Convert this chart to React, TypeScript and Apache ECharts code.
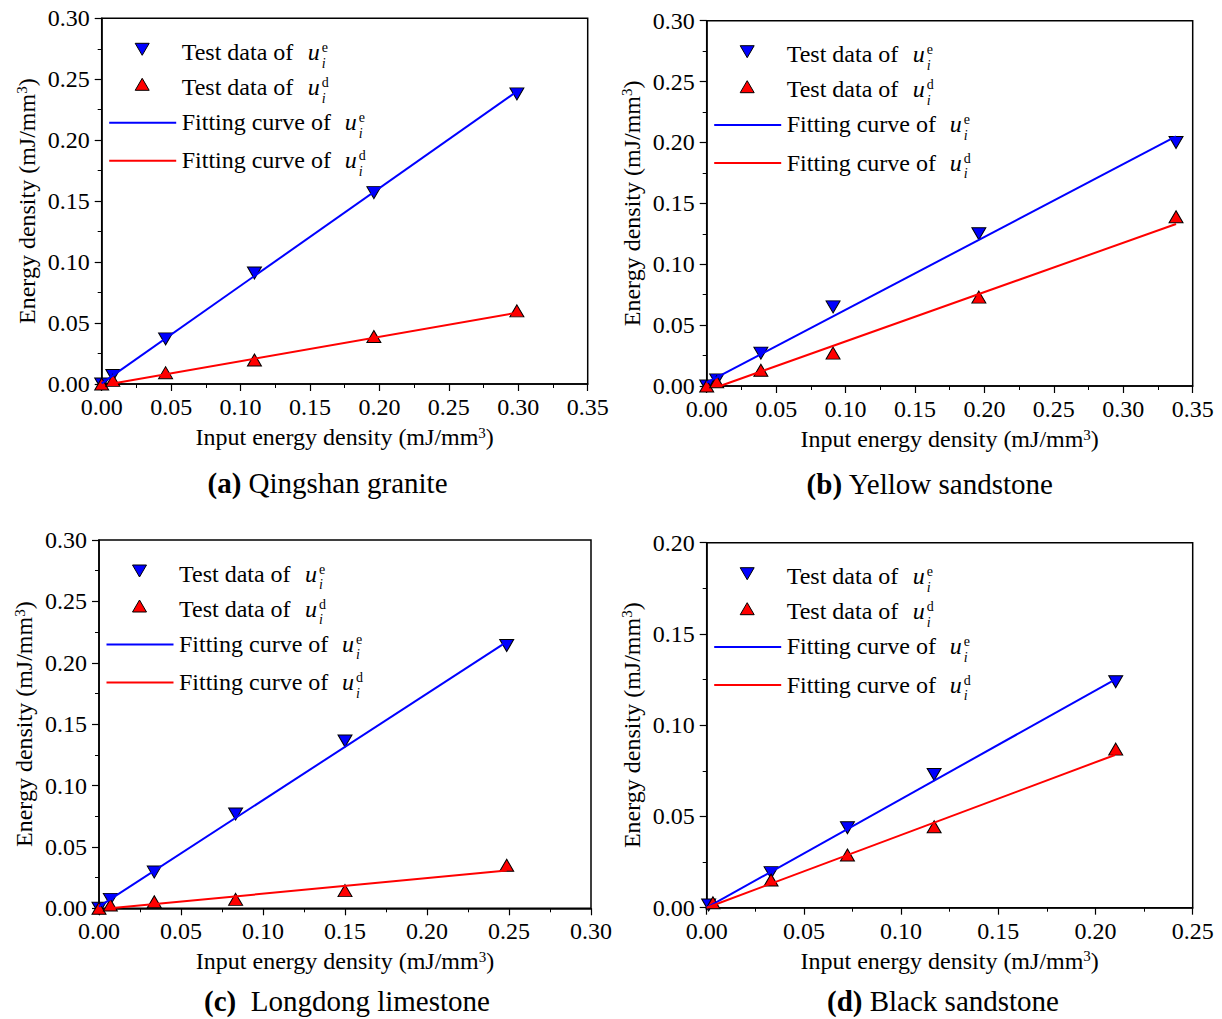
import React, { useEffect, useRef } from "react";
import * as echarts from "echarts";

const FONT = '"Liberation Serif", "Times New Roman", Times, serif';

// (a) Qingshan granite
const inputA = [0, 0.008, 0.046, 0.11, 0.196, 0.299];
const elasticA = [0, 0.007, 0.037, 0.091, 0.157, 0.238];
const dissipA = [0, 0.003, 0.0093, 0.0197, 0.039, 0.06];
const fitElasticA = [[0, 0.0005], [0.299, 0.24]];
const fitDissipA = [[0.006, 0], [0.299, 0.0585]];

// (b) Yellow sandstone
const inputB = [0, 0.0072, 0.039, 0.091, 0.196, 0.338];
const elasticB = [0, 0.005, 0.027, 0.065, 0.125, 0.2];
const dissipB = [0, 0.0035, 0.013, 0.027, 0.073, 0.139];
const fitElasticB = [[0, 0.0027], [0.338, 0.205]];
const fitDissipB = [[0.0096, 0], [0.338, 0.133]];

// (c) Longdong limestone
const inputC = [0, 0.0069, 0.0337, 0.0833, 0.15, 0.2486];
const elasticC = [0, 0.0073, 0.0295, 0.0768, 0.1363, 0.214];
const dissipC = [0, 0.0027, 0.0054, 0.0073, 0.0144, 0.035];
const fitElasticC = [[0, 0.0014], [0.2486, 0.217]];
const fitDissipC = [[0.0067, 0], [0.2486, 0.0307]];

// (d) Black sandstone
const inputDe = [0.001, 0.0331, 0.0724, 0.117, 0.2104];
const elasticD = [0.0015, 0.0192, 0.0438, 0.073, 0.1238];
const inputDd = [0.0032, 0.0331, 0.0724, 0.117, 0.2104];
const dissipD = [0.0027, 0.0152, 0.0289, 0.0444, 0.0869];
const fitElasticD = [[0, 0], [0.21, 0.125]];
const fitDissipD = [[0, 0], [0.21, 0.0837]];

// Axis ranges
const xMaxes = [0.35, 0.35, 0.3, 0.25];
const yMaxes = [0.3, 0.3, 0.3, 0.2];
const tickStep = 0.05;

const captionTags = ["(a)", "(b)", "(c)", "(d)"];
const captionNames = [" Qingshan granite", " Yellow sandstone", "  Longdong limestone", " Black sandstone"];

const legendRows = [
  { text: "Test data of", sup: "e" },
  { text: "Test data of", sup: "d" },
  { text: "Fitting curve of", sup: "e" },
  { text: "Fitting curve of", sup: "d" },
];

const BLUE = "#0000ff";
const RED = "#ff0000";

// Panel frames (pixels)
const layout = [
  { left: 101.7, top: 18.3, width: 486, height: 365.7, capX: 327.5, capY: 483 },
  { left: 706.7, top: 20.7, width: 486, height: 365.3, capX: 930, capY: 484 },
  { left: 99, top: 540, width: 492, height: 368.3, capX: 347, capY: 1001 },
  { left: 706.7, top: 542.7, width: 486, height: 365, capX: 943, capY: 1001 },
];

const pair = (xs: number[], ys: number[]) => xs.map((x, i) => [x, ys[i]]);

const panels = [
  { e: pair(inputA, elasticA), d: pair(inputA, dissipA), fe: fitElasticA, fd: fitDissipA },
  { e: pair(inputB, elasticB), d: pair(inputB, dissipB), fe: fitElasticB, fd: fitDissipB },
  { e: pair(inputC, elasticC), d: pair(inputC, dissipC), fe: fitElasticC, fd: fitDissipC },
  { e: pair(inputDe, elasticD), d: pair(inputDd, dissipD), fe: fitElasticD, fd: fitDissipD },
];

const textRich = {
  t: { fontSize: 24, fontFamily: FONT, color: "#000" },
  s: { fontSize: 15, fontFamily: FONT, color: "#000", verticalAlign: "top" as const },
};

function legendFor(gx: number, gy: number) {
  const els: any[] = [];
  const cx = gx + 40.5;
  const c1 = gy + 31;
  const c2 = gy + 66;
  els.push({
    type: "polygon",
    shape: { points: [[cx - 7, c1 - 6], [cx + 7, c1 - 6], [cx, c1 + 6]] },
    style: { fill: BLUE, stroke: "#000", lineWidth: 1 },
  });
  els.push({
    type: "polygon",
    shape: { points: [[cx - 7, c2 + 6], [cx + 7, c2 + 6], [cx, c2 - 6]] },
    style: { fill: RED, stroke: "#000", lineWidth: 1 },
  });
  els.push({
    type: "line",
    shape: { x1: gx + 7.5, y1: gy + 104.4, x2: gx + 74.5, y2: gy + 104.4 },
    style: { stroke: BLUE, lineWidth: 2 },
  });
  els.push({
    type: "line",
    shape: { x1: gx + 7.5, y1: gy + 142.4, x2: gx + 74.5, y2: gy + 142.4 },
    style: { stroke: RED, lineWidth: 2 },
  });
  const baselines = [41.7, 76.7, 111.7, 150];
  legendRows.forEach((row, i) => {
    const base = gy + baselines[i];
    const tx = gx + 80;
    const ux = tx + (i < 2 ? 126 : 163);
    els.push({
      type: "text",
      x: tx,
      y: base - 8,
      style: { text: row.text, fontSize: 24, fontFamily: FONT, fill: "#000", textAlign: "left", textVerticalAlign: "middle" },
    });
    els.push({
      type: "text",
      x: ux,
      y: base - 8,
      style: { text: "u", fontSize: 24, fontFamily: FONT, fontStyle: "italic", fill: "#000", textAlign: "left", textVerticalAlign: "middle" },
    });
    // superscript and subscript stacked after the italic u
    els.push({
      type: "text",
      x: ux + 14,
      y: base - 12.5,
      style: { text: row.sup, fontSize: 14, fontFamily: FONT, fill: "#000", textAlign: "left", textVerticalAlign: "middle" },
    });
    els.push({
      type: "text",
      x: ux + 14,
      y: base + 3,
      style: { text: "i", fontSize: 14, fontFamily: FONT, fontStyle: "italic", fill: "#000", textAlign: "left", textVerticalAlign: "middle" },
    });
  });
  return els;
}

function buildOption() {
  const grid: any[] = [];
  const xAxis: any[] = [];
  const yAxis: any[] = [];
  const series: any[] = [];
  let graphic: any[] = [];

  const axisCommon = (max: number) => ({
    type: "value",
    min: 0,
    max,
    interval: tickStep,
    axisLine: { show: true, onZero: false, lineStyle: { color: "#000", width: 1.5 } },
    axisTick: { show: true, inside: false, length: 7, lineStyle: { color: "#000", width: 1.2 } },
    minorTick: { show: true, splitNumber: 2, length: 4, lineStyle: { color: "#000", width: 1 } },
    splitLine: { show: false },
    minorSplitLine: { show: false },
    axisLabel: {
      fontSize: 24,
      fontFamily: FONT,
      color: "#000",
      formatter: (v: number) => v.toFixed(2),
    },
    nameLocation: "middle",
    nameTextStyle: { rich: textRich },
  });

  layout.forEach((L, i) => {
    grid.push({
      left: L.left,
      top: L.top,
      width: L.width,
      height: L.height,
      show: true,
      borderColor: "#000",
      borderWidth: 1.5,
      backgroundColor: "transparent",
    });
    const xa: any = axisCommon(xMaxes[i]);
    xa.gridIndex = i;
    xa.axisLabel.margin = 11;
    xa.name = "{t|Input energy density (mJ/mm}{s|3}{t|)}";
    xa.nameGap = 41;
    xAxis.push(xa);
    const ya: any = axisCommon(yMaxes[i]);
    ya.gridIndex = i;
    ya.axisLabel.margin = 12;
    ya.name = "{t|Energy density (mJ/mm}{s|3}{t|)}";
    ya.nameGap = 63;
    yAxis.push(ya);

    const P = panels[i];
    series.push({
      type: "scatter",
      xAxisIndex: i,
      yAxisIndex: i,
      data: P.e,
      symbol: "triangle",
      symbolRotate: 180,
      symbolSize: [14, 12],
      itemStyle: { color: BLUE, borderColor: "#000", borderWidth: 1, opacity: 1 },
      z: 2,
    });
    series.push({
      type: "scatter",
      xAxisIndex: i,
      yAxisIndex: i,
      data: P.d,
      symbol: "triangle",
      symbolSize: [14, 12],
      itemStyle: { color: RED, borderColor: "#000", borderWidth: 1, opacity: 1 },
      z: 2,
    });
    series.push({
      type: "line",
      xAxisIndex: i,
      yAxisIndex: i,
      data: P.fe,
      symbol: "none",
      lineStyle: { color: BLUE, width: 2 },
      z: 3,
    });
    series.push({
      type: "line",
      xAxisIndex: i,
      yAxisIndex: i,
      data: P.fd,
      symbol: "none",
      lineStyle: { color: RED, width: 2 },
      z: 3,
    });

    graphic = graphic.concat(legendFor(L.left, L.top));
    graphic.push({
      type: "text",
      x: L.capX,
      y: L.capY,
      style: {
        text: `{b|${captionTags[i]}}{r|${captionNames[i]}}`,
        rich: {
          b: { fontSize: 29, fontFamily: FONT, fontWeight: "bold", fill: "#000" },
          r: { fontSize: 29, fontFamily: FONT, fill: "#000" },
        },
        textAlign: "center",
        textVerticalAlign: "middle",
      },
    });
  });

  return {
    animation: false,
    backgroundColor: "#fff",
    grid,
    xAxis,
    yAxis,
    series,
    graphic,
  };
}

export default function App() {
  const ref = useRef<HTMLDivElement>(null);
  useEffect(() => {
    if (!ref.current) return;
    const chart = echarts.init(ref.current, undefined, { renderer: "svg" });
    chart.setOption(buildOption() as any);
    return () => chart.dispose();
  }, []);
  return (
    <div
      ref={ref}
      style={{ position: "absolute", left: 0, top: 0, width: 1222, height: 1019 }}
    />
  );
}
